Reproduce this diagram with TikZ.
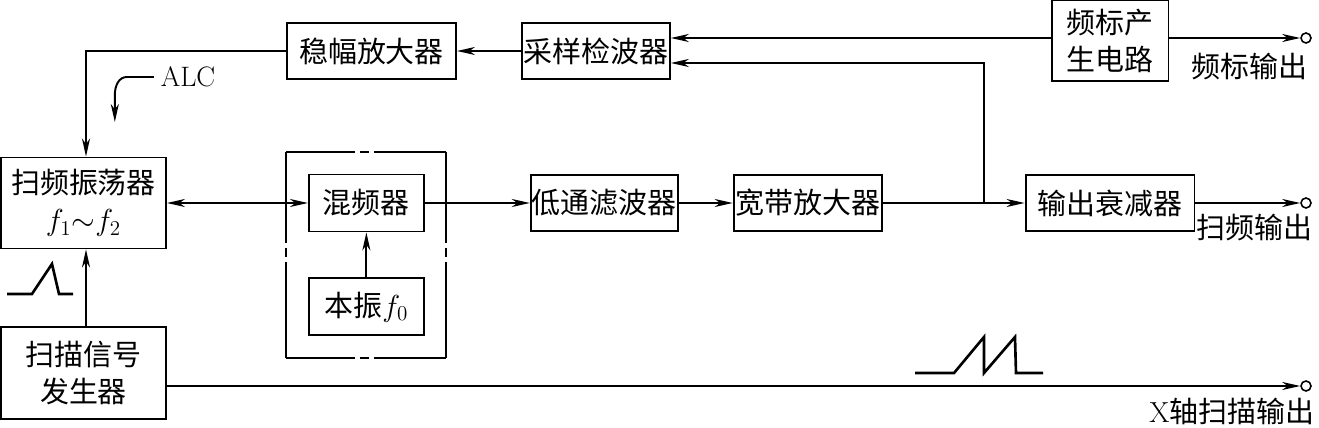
\documentclass[tikz,border=0pt]{standalone}
\usepackage{fontspec}
\usetikzlibrary{positioning,arrows.meta,fit}
\newfontfamily\cjk{Noto Sans CJK SC}
\newcommand{\blkfont}{\cjk\fontsize{16.5pt}{21pt}\selectfont}

\begin{document}
\begin{tikzpicture}[x=0.02cm,y=-0.02cm,line width=1.1pt,font=\blkfont,
    blk/.style={draw,inner sep=0pt,align=center},
    sig/.style={-{Stealth[length=0.36cm,width=0.16cm,inset=0.11cm]}},
    sigboth/.style={{Stealth[length=0.36cm,width=0.16cm,inset=0.11cm]}-{Stealth[length=0.36cm,width=0.16cm,inset=0.11cm]}},
    port/.style={draw,circle,inner sep=0pt,minimum size=0.2cm,line width=0.9pt},
    brkh/.style={dash pattern=on 1.37cm off 0.1cm on 0.18cm off 0.1cm on 2cm off 1cm},
    brkv/.style={dash pattern=on 1.81cm off 0.1cm on 0.18cm off 0.1cm on 2cm off 1cm},
    wave/.style={line width=1.5pt}]
    \useasboundingbox (0,0) rectangle (1319,428);
    % main row
    \node[blk,minimum width=3.3cm,minimum height=1.82cm] (sweep) at (83.5,203) {扫频振荡器\\$f_1{\sim}f_2$};
    \node[blk,minimum width=2.3cm,minimum height=1.14cm,right=2.82cm of sweep] (mixer) {混频器};
    \node[blk,minimum width=2.3cm,minimum height=1.14cm,below=0.9cm of mixer] (lo) {本振$f_0$};
    \node[blk,minimum width=2.94cm,minimum height=1.12cm,right=2.1cm of mixer] (lpf) {低通滤波器};
    \node[blk,minimum width=2.96cm,minimum height=1.12cm,right=1.08cm of lpf] (wamp) {宽带放大器};
    \node[blk,minimum width=3.38cm,minimum height=1.12cm,right=2.84cm of wamp] (att) {输出衰减器};
    \node[blk,minimum width=3.3cm,minimum height=1.84cm,below=1.54cm of sweep] (scangen) {扫描信号\\发生器};
    % top row
    \node[blk,minimum width=3.38cm,minimum height=1.12cm] (stab) at (371.5,51) {稳幅放大器};
    \node[blk,minimum width=2.96cm,minimum height=1.12cm,right=1.28cm of stab] (sample) {采样检波器};
    \node[blk,minimum width=2.34cm,minimum height=1.62cm,above=1.84cm of att] (marker) {频标产\\生电路};
    % dash-dot frame round mixer and local oscillator
    \node[fit=(mixer)(lo),inner sep=0.41cm] (unit) {};
    \draw[brkh] (unit.north west) -- (unit.north east);
    \draw[brkh] (unit.south west) -- (unit.south east);
    \draw[brkv] (unit.north west) -- (unit.south west);
    \draw[brkv] (unit.north east) -- (unit.south east);
    % outputs
    \node[port] (fout) at (1306,38) {};
    \node[port] (sout) at (1306,203) {};
    \node[port] (xout) at (1306,386) {};
    \node (flab) at (1249,66) {频标输出};
    \node (slab) at (1254,227) {扫频输出};
    \node (xlab) at (1232,411) {{\rmfamily X}轴扫描输出};
    \node[font=\rmfamily\fontsize{16pt}{19pt}\selectfont,inner sep=0pt] (alc) at (188,77) {ALC};
    \coordinate[right=2.02cm of wamp.east] (tap);
    % connectors
    \draw[sigboth] (sweep.east) -- (mixer.west);
    \draw[sig] (lo) -- (mixer);
    \draw[sig] (mixer) -- (lpf);
    \draw[sig] (lpf) -- (wamp);
    \draw[sig] (wamp) -- (att);
    \draw[sig] (att) -- (sout);
    \draw[sig] (fout -| marker.east) -- (fout);
    \draw[sig] (fout -| marker.west) -- (fout -| sample.east);
    \draw[sig] (tap) |- ([yshift=-0.24cm]sample.east);
    \draw[sig] (sample) -- (stab);
    \draw[sig] (stab.west) -| ([xshift=0.05cm]sweep.north);
    \draw[sig] ([xshift=0.05cm]scangen.north) -- ([xshift=0.05cm]sweep.south);
    \draw[sig] (xout -| scangen.east) -- (xout);
    \draw[sig] ([xshift=-0.12cm]alc.west) -- ++(-0.54cm,0) to[out=180,in=90] ++(-0.24cm,-0.36cm) -- ++(0,-0.54cm);
    % waveforms
    \draw[wave] (7,294) -- (32,294) -- (52,264) -- (59,294) -- (73,294);
    \draw[wave] (915,373) -- (954,373) -- (984,337) -- (984,373) -- (1015,337) -- (1016,373) -- (1043,373);
\end{tikzpicture}
\end{document}
